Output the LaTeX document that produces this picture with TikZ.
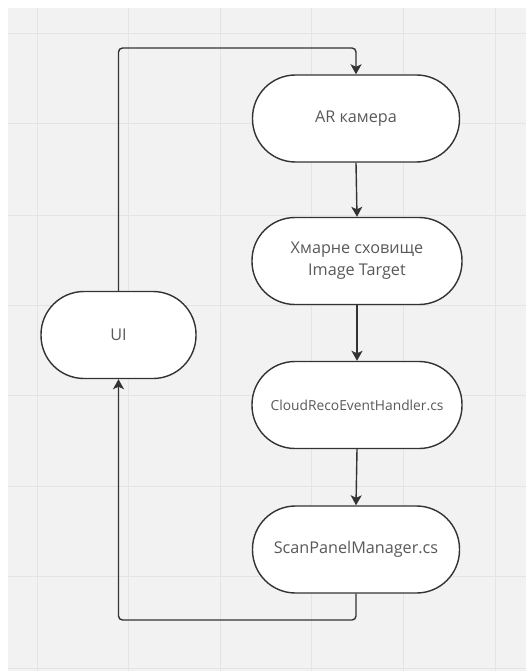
\documentclass[tikz,border=0pt]{standalone}
\usepackage{fontspec}
\setmainfont{Open Sans}
\usetikzlibrary{arrows.meta}
\definecolor{bgc}{HTML}{F2F2F2}
\definecolor{gridc}{HTML}{E4E4E4}
\definecolor{linec}{HTML}{333333}
\definecolor{txtc}{HTML}{595959}
\tikzset{
  term/.style={draw=linec, line width=1.4pt, fill=white, rounded corners=43pt,
    minimum width=207pt, minimum height=87pt, inner sep=0pt, text=txtc,
    font=\fontsize{16.2}{22}\selectfont, align=center},
  conn/.style={draw=linec, line width=1.4pt, rounded corners=4pt},
  arr/.style={-{Stealth[length=10pt,width=11pt,inset=2.5pt]}}
}
\begin{document}
\begin{tikzpicture}[x=1pt,y=-1pt]
\useasboundingbox (0,0) rectangle (526,671);
\fill[white] (0,0) rectangle (526,671);
\fill[bgc] (8,8) rectangle (526,671);
\foreach \gx in {37,128,220,311,403,495} \draw[gridc, line width=1pt] (\gx,8) -- (\gx,671);
\foreach \gy in {34,124,215,305,395,486,576,668} \draw[gridc, line width=1pt] (8,\gy) -- (526,\gy);

\node[term] (ar) at (356,118.5) {AR камера};
\node[term, minimum width=210pt] (cloud) at (357,261) {Хмарне сховище\\Image Target};
\node[term, minimum width=210pt, font=\fontsize{13.8}{16}\selectfont] (reco) at (357,405) {CloudRecoEventHandler.cs};
\node[term] (scan) at (356,549.5) {ScanPanelManager.cs};
\node[term, minimum width=155pt] (ui) at (118.5,335) {UI};

\coordinate (top) at (118,48);
\coordinate (bot) at (118,620);

\draw[conn,arr] (ui.north) -- (ui.north |- top) -| (ar.north);
\draw[conn,arr] (ar.south) -- (cloud.north);
\draw[conn,arr] (cloud.south) -- (reco.north);
\draw[conn,arr] (reco.south) -- (scan.north);
\draw[conn,arr] (scan.south) -- (scan.south |- bot) -| (ui.south);
\end{tikzpicture}
\end{document}
